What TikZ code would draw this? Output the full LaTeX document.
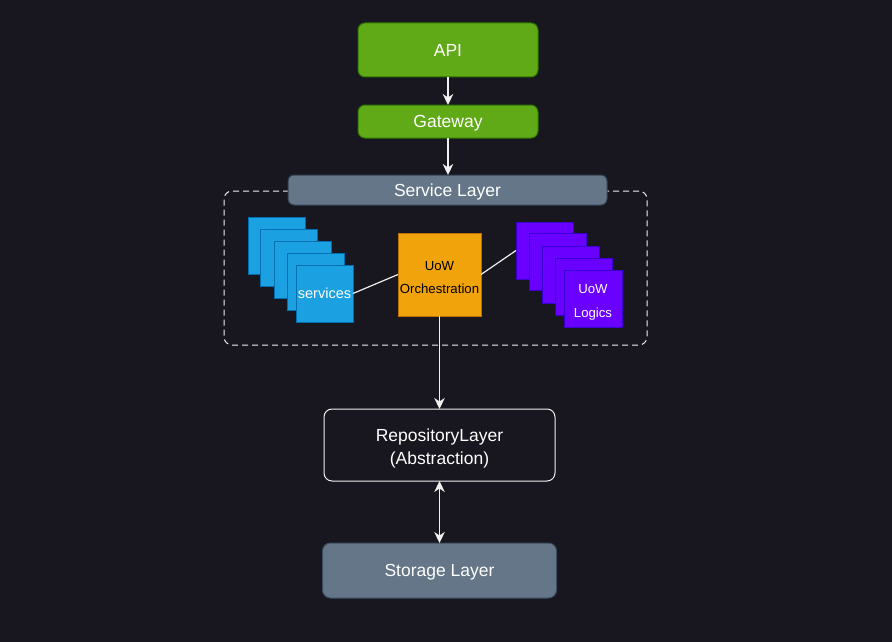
\documentclass[tikz,border=0pt]{standalone}
\usepackage{fontspec}
\setmainfont{Liberation Sans}
\usetikzlibrary{arrows.meta}
\definecolor{bg}{RGB}{24,22,30}
\definecolor{gfill}{HTML}{60A917}
\definecolor{gline}{HTML}{2D7600}
\definecolor{sfill}{HTML}{647687}
\definecolor{sline}{HTML}{314354}
\definecolor{bfill}{HTML}{1BA1E2}
\definecolor{bline}{HTML}{006EAF}
\definecolor{ofill}{HTML}{F0A30A}
\definecolor{oline}{HTML}{BD7000}
\definecolor{pfill}{HTML}{6A00FF}
\definecolor{pline}{HTML}{3700CC}
\definecolor{wline}{RGB}{240,240,240}
\newcommand{\bigfont}{\fontsize{17.5}{23}\selectfont}
\newcommand{\midfont}{\fontsize{14.5}{18}\selectfont}
\newcommand{\smallfont}{\fontsize{13.2}{23.5}\selectfont}
\tikzset{
  box/.style={inner sep=0pt, outer sep=0pt, line width=1pt, align=center},
  bigtxt/.style={font=\bigfont, text height=12.5pt, text depth=0pt},
  greenbox/.style={box, draw=gline, fill=gfill, rounded corners=7pt, text=white, bigtxt},
  slatebox/.style={box, draw=sline, fill=sfill, rounded corners=6pt, text=white, bigtxt},
  bluebox/.style={box, draw=bline, fill=bfill, minimum width=57pt, minimum height=57pt, text=white, font=\midfont, text height=10.4pt, text depth=0pt},
  purplebox/.style={box, draw=pline, fill=pfill, minimum width=57pt, minimum height=57pt},
  orangebox/.style={box, draw=oline, fill=ofill},
  repobox/.style={box, draw=wline, fill=bg, rounded corners=8pt},
  multitxt/.style={inner sep=0pt, outer sep=0pt, align=center},
  container/.style={box, draw=wline, dash pattern=on 6pt off 4pt, rounded corners=8pt},
  tip/.style={},
  arr/.style={draw=wline, line width=1.3pt, -{Stealth[length=11pt,width=10.5pt,inset=3.5pt]}},
  darr/.style={draw=wline, line width=1.3pt, {Stealth[length=11pt,width=10.5pt,inset=3.5pt]}-{Stealth[length=11pt,width=10.5pt,inset=3.5pt]}},
  link/.style={draw=wline, line width=1.2pt}
}
\begin{document}
\begin{tikzpicture}[x=1pt,y=-1pt]
\useasboundingbox[fill=bg] (0,0) rectangle (892,642);

\node[container, minimum width=423pt, minimum height=154pt] (cont) at (435.5,268) {};

\node[greenbox, minimum width=180pt, minimum height=54pt] (api) at (448,50) {API};
\node[greenbox, minimum width=180pt, minimum height=33pt] (gw) at (448,121.5) {Gateway};
\node[slatebox, minimum width=319pt, minimum height=30pt] (svc) at (447.5,190) {Service Layer};

\node[bluebox] (s1) at (276.5,245.5) {};
\node[bluebox] (s2) at (288.5,257.5) {};
\node[bluebox] (s3) at (302.5,269.5) {};
\node[bluebox] (s4) at (315.5,281.5) {};
\node[bluebox] (s5) at (324.5,293.5) {services};

\node[orangebox, minimum width=83pt, minimum height=83pt] (orch) at (439.5,274.5) {};
\node[multitxt, font=\smallfont, text=black] (orchtxt) at ([yshift=-3pt]orch.center) {UoW\\Orchestration};

\node[purplebox] (p1) at (544.5,250.5) {};
\node[purplebox] (p2) at (557.5,261.5) {};
\node[purplebox] (p3) at (570.5,274.5) {};
\node[purplebox] (p4) at (583.5,286.5) {};
\node[purplebox, minimum width=58pt] (p5) at (593,298.5) {};
\node[multitxt, font=\smallfont, text=white] (p5txt) at ([yshift=-4pt]p5.center) {UoW\\Logics};

\node[repobox, minimum width=231pt, minimum height=72pt] (repo) at (439.5,445) {};
\node[multitxt, font=\bigfont, text=white] (repotxt) at ([yshift=-3pt]repo.center) {RepositoryLayer\\(Abstraction)};
\node[slatebox, draw=sline!80!sfill, rounded corners=8pt, minimum width=234pt, minimum height=55pt] (store) at (439.5,570.5) {Storage Layer};

\draw[arr] (api) -- (gw);
\draw[arr] (gw.south) -- (gw.south |- svc.north);
\draw[link] (s5.east) -- (orch.west);
\draw[link] (orch.east) -- (p1.west);
\draw[arr] (orch.south) -- (orch.south |- repo.north);
\draw[darr] (repo.south) -- (repo.south |- store.north);
\end{tikzpicture}
\end{document}
